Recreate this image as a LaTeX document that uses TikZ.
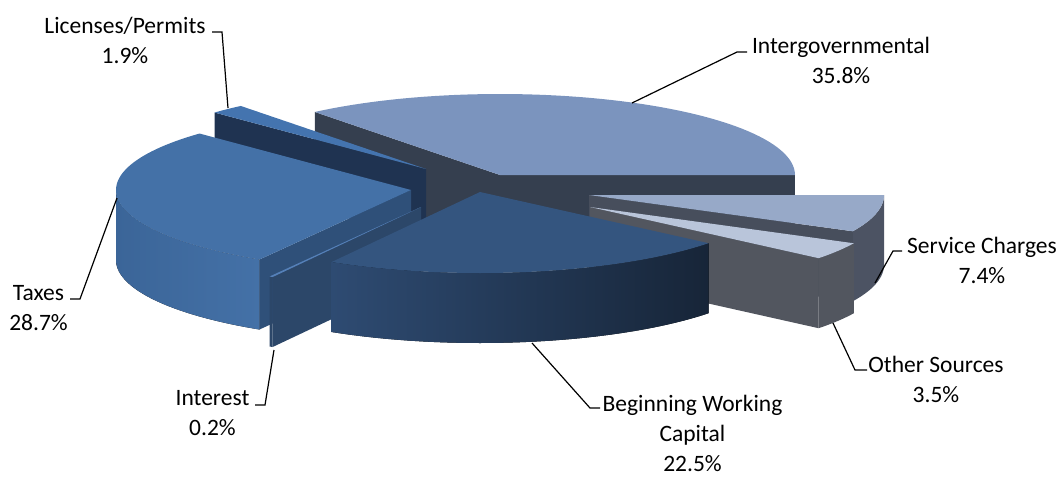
\documentclass[tikz,border=0pt]{standalone}
\usepackage{fontspec}
\setmainfont{Carlito}
\definecolor{igtop}{HTML}{7B94BE}
\definecolor{igside}{HTML}{353F4F}
\definecolor{sctop}{HTML}{97A9C8}
\definecolor{scside}{HTML}{474E5C}
\definecolor{scrim}{HTML}{4C5363}
\definecolor{ostop}{HTML}{B9C5DA}
\definecolor{osside}{HTML}{52565F}
\definecolor{bwtop}{HTML}{34557F}
\definecolor{bwrimL}{HTML}{2E4B72}
\definecolor{bwrimR}{HTML}{172538}
\definecolor{intface}{HTML}{2C4769}
\definecolor{inttop}{HTML}{5580B8}
\definecolor{txtop}{HTML}{4471A7}
\definecolor{txside}{HTML}{2F5079}
\definecolor{txrimL}{HTML}{3B6598}
\definecolor{txrimR}{HTML}{4471A7}
\definecolor{lctop}{HTML}{4474AF}
\definecolor{lcside}{HTML}{1F3351}
\newcommand{\pieTop}[3]{\fill[#1] (\pX,\pY) -- plot[domain=#2:#3,samples=60] ({\pX+\RR*sin(\x)},{\pY-\KK*cos(\x)}) -- cycle;}
\newcommand{\pieRim}[3]{\fill[#1] plot[domain=#2:#3,samples=60] ({\pX+\RR*sin(\x)},{\pY-\KK*cos(\x)}) -- plot[domain=#3:#2,samples=60] ({\pX+\RR*sin(\x)},{\pY+\HH-\KK*cos(\x)}) -- cycle;}
\newcommand{\pieCut}[2]{\fill[#1] (\pX,\pY) -- ({\pX+\RR*sin(#2)},{\pY-\KK*cos(#2)}) -- ({\pX+\RR*sin(#2)},{\pY+\HH-\KK*cos(#2)}) -- (\pX,{\pY+\HH}) -- cycle;}
\begin{document}
\begin{tikzpicture}[x=1pt,y=-1pt,
  lbl/.style={font=\fontsize{23.5}{30}\selectfont, align=center, inner sep=0pt, text=black},
  leader/.style={draw=black, line width=1.2pt, line join=miter}]
\useasboundingbox (0,0) rectangle (1061,477);
\def\RR{295}\def\KK{81}\def\HH{70}
% Intergovernmental
\def\pX{500}\def\pY{175}
\pieCut{igside}{-38.9}
\pieCut{igside}{90}
\pieTop{igtop}{-38.9}{90}
% Licenses/Permits
\def\pX{426}\def\pY{169}
\pieCut{lcside}{314.2}
\pieTop{lctop}{314.2}{321.1}
% Service Charges
\def\pX{589}\def\pY{195}
\pieCut{scside}{116.6}
\pieRim{scrim}{90}{116.6}
\pieTop{sctop}{90}{116.6}
% Other Sources
\def\pX{590}\def\pY{207}
\pieCut{osside}{129.2}
\pieRim{osside}{116.6}{129.2}
\pieTop{ostop}{116.6}{129.2}
% Taxes
\def\pX{411}\def\pY{190}
\pieCut{txside}{210.9}
\pieRim{left color=txrimL,right color=txrimR}{210.9}{270}
\pieTop{txtop}{210.9}{314.2}
% Interest
\def\pX{421}\def\pY{207}
\pieCut{intface}{210.2}
\pieRim{intface}{210.2}{210.9}
\pieTop{inttop}{210.2}{210.9}
% Beginning Working Capital
\def\pX{480}\def\pY{192}
\pieRim{left color=bwrimL,right color=bwrimR}{129.2}{210.2}
\pieTop{bwtop}{129.2}{210.2}
% Labels
\node[lbl] (lic) at (125,40) {Licenses/Permits\\1.9\%};
\node[lbl] (ig) at (841,60) {Intergovernmental\\35.8\%};
\node[lbl] (sc) at (982,260) {Service Charges\\7.4\%};
\node[lbl] (os) at (936,379) {Other Sources\\3.5\%};
\node[lbl] (tx) at (38.5,308) {Taxes\\28.7\%};
\node[lbl] (in) at (212.5,413) {Interest\\0.2\%};
\node[lbl] (bw) at (692.5,433) {Beginning Working\\Capital\\22.5\%};
% Leader coordinates
\coordinate (licA) at (212,32); \coordinate (licB) at (222,32); \coordinate (licC) at (228,108);
\coordinate (igA) at (747,52); \coordinate (igB) at (737,52); \coordinate (igC) at (632,103);
\coordinate (scA) at (902,251); \coordinate (scB) at (893,251); \coordinate (scC) at (875,283);
\coordinate (osA) at (867,370); \coordinate (osB) at (855,370); \coordinate (osC) at (833,323);
\coordinate (txA) at (70,299); \coordinate (txB) at (80,299); \coordinate (txC) at (117,198);
\coordinate (inA) at (255,405); \coordinate (inB) at (265,405); \coordinate (inC) at (274,350);
\coordinate (bwA) at (600,408); \coordinate (bwB) at (590,408); \coordinate (bwC) at (532,343);
\draw[leader] (licA) -- (licB) -- (licC);
\draw[leader] (igA) -- (igB) -- (igC);
\draw[leader] (scA) -- (scB) -- (scC);
\draw[leader] (osA) -- (osB) -- (osC);
\draw[leader] (txA) -- (txB) -- (txC);
\draw[leader] (inA) -- (inB) -- (inC);
\draw[leader] (bwA) -- (bwB) -- (bwC);
\end{tikzpicture}
\end{document}
